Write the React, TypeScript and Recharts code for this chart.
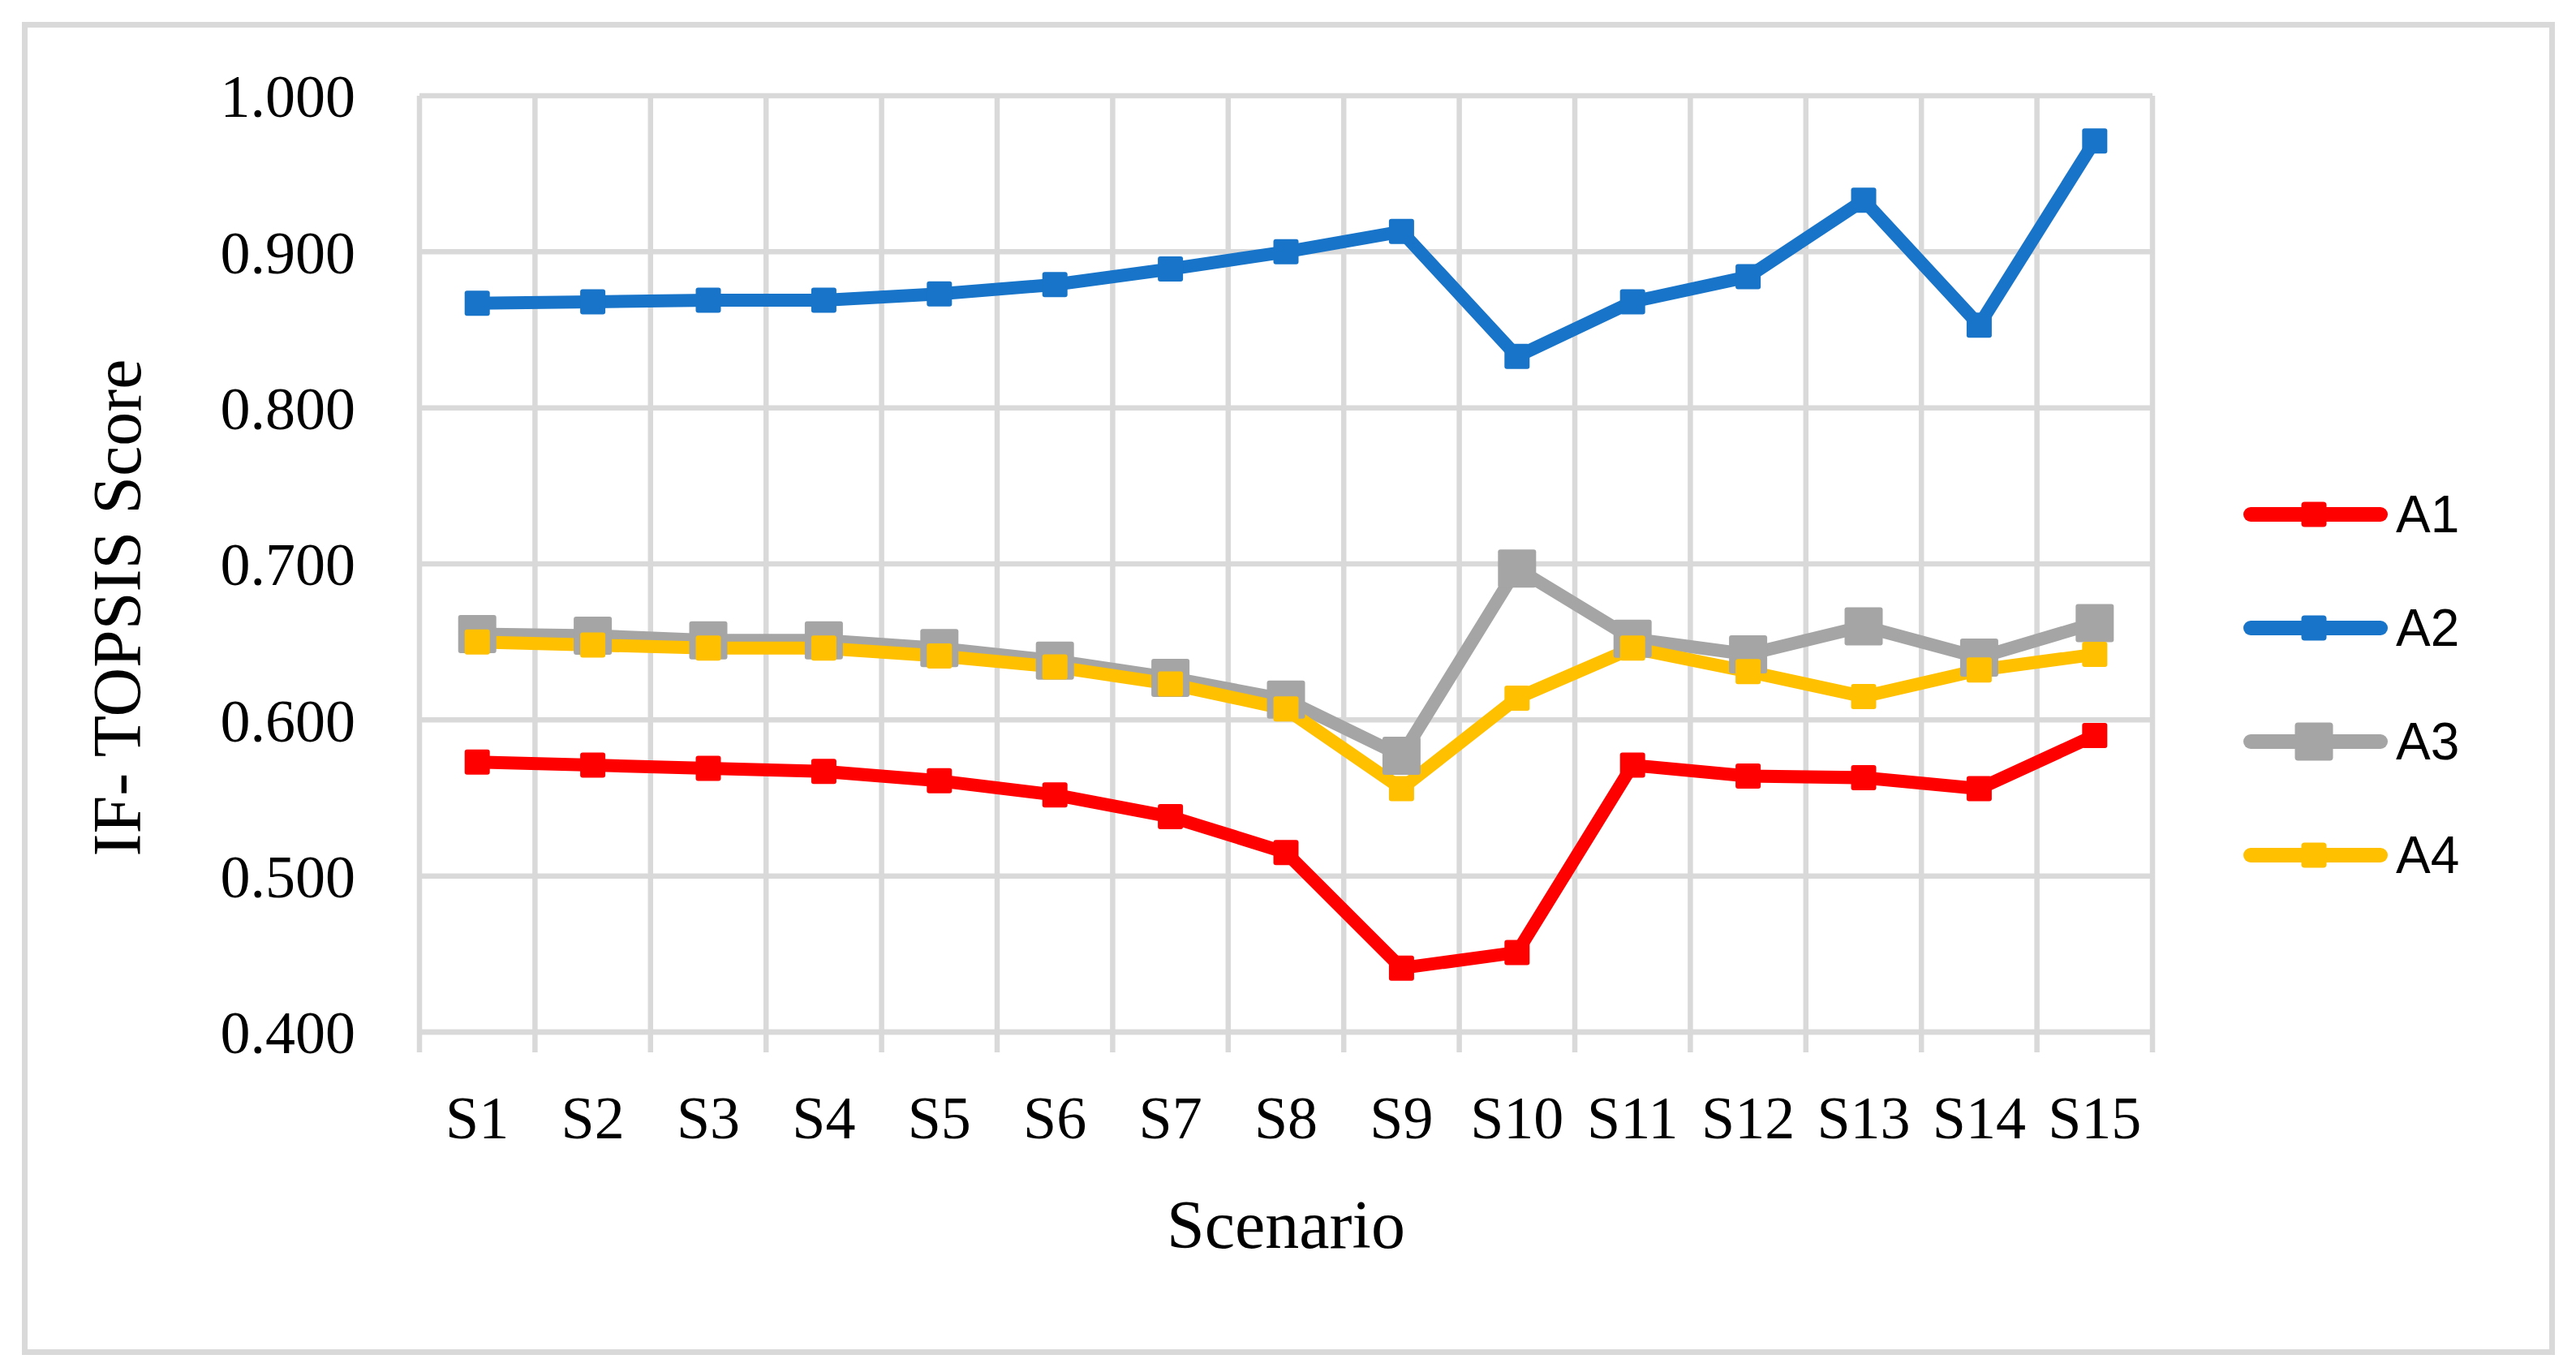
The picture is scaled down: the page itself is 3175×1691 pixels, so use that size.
import {
  CartesianGrid,
  Label,
  Legend,
  Line,
  LineChart,
  XAxis,
  YAxis,
} from "recharts";

const SCENARIOS = [
  "S1", "S2", "S3", "S4", "S5", "S6", "S7", "S8",
  "S9", "S10", "S11", "S12", "S13", "S14", "S15",
];

const A1 = [0.573, 0.571, 0.569, 0.567, 0.561, 0.552, 0.538, 0.515, 0.441, 0.451, 0.571, 0.564, 0.563, 0.556, 0.59];
const A2 = [0.867, 0.868, 0.869, 0.869, 0.873, 0.879, 0.889, 0.9, 0.913, 0.833, 0.868, 0.884, 0.933, 0.853, 0.971];
const A3 = [0.655, 0.654, 0.651, 0.651, 0.646, 0.638, 0.627, 0.613, 0.577, 0.697, 0.652, 0.642, 0.66, 0.64, 0.662];
const A4 = [0.65, 0.648, 0.646, 0.646, 0.641, 0.634, 0.623, 0.607, 0.556, 0.614, 0.646, 0.631, 0.615, 0.632, 0.642];

const Y_TICKS = [0.4, 0.5, 0.6, 0.7, 0.8, 0.9, 1.0];

const SERIES = [
  { key: "A1", values: A1, color: "#ff0000", marker: 31 },
  { key: "A2", values: A2, color: "#1874c8", marker: 31 },
  { key: "A3", values: A3, color: "#a5a5a5", marker: 47 },
  { key: "A4", values: A4, color: "#ffc000", marker: 31 },
];

const GRID = "#d9d9d9";
const SERIF = "'Liberation Serif', 'Times New Roman', serif";
const SANS = "'Liberation Sans', Arial, sans-serif";
const LINE_W = 16;

// numeric x axis: each scenario sits in the middle of its band
const chartData = SCENARIOS.map((name, i) => {
  const row: Record<string, number | string> = { pos: i + 0.5, name };
  SERIES.forEach((s) => {
    row[s.key] = s.values[i];
  });
  return row;
});
const labelTicks = SCENARIOS.map((_, i) => i + 0.5);
const edgeTicks = [...SCENARIOS.map((_, i) => i), SCENARIOS.length];

function squareDot(size: number, color: string) {
  return (props: any) => {
    const { cx, cy, index } = props;
    if (cx == null || cy == null) return <g key={index} />;
    return (
      <rect
        key={index}
        x={cx - size / 2}
        y={cy - size / 2}
        width={size}
        height={size}
        rx={3}
        fill={color}
      />
    );
  };
}

function LegendBox() {
  return (
    <div>
      {SERIES.map((s) => (
        <svg key={s.key} width={300} height={140} style={{ display: "block" }}>
          <line
            x1={10}
            x2={170}
            y1={44}
            y2={44}
            stroke={s.color}
            strokeWidth={18}
            strokeLinecap="round"
          />
          <rect
            x={88 - s.marker / 2}
            y={44 - s.marker / 2}
            width={s.marker}
            height={s.marker}
            rx={4}
            fill={s.color}
          />
          <text
            x={189}
            y={44}
            dy="0.35em"
            fontSize={64}
            fontFamily={SANS}
            fill="#000"
          >
            {s.key}
          </text>
        </svg>
      ))}
    </div>
  );
}

export default function App() {
  return (
    <div
      style={{
        position: "absolute",
        left: 0,
        top: 0,
        width: 3175,
        height: 1691,
        background: "#fff",
      }}
    >
      <div
        style={{
          position: "absolute",
          left: 27,
          top: 27,
          width: 3122,
          height: 1643,
          boxSizing: "border-box",
          border: `7px solid ${GRID}`,
        }}
      />
      <LineChart
        width={3175}
        height={1691}
        data={chartData}
        margin={{ top: 118, right: 522, bottom: 118, left: 0 }}
      >
        <CartesianGrid
          xAxisId="a_edges"
          stroke={GRID}
          strokeWidth={6.5}
          fill="none"
        />
        <XAxis
          xAxisId="a_edges"
          type="number"
          dataKey="pos"
          domain={[0, SCENARIOS.length]}
          ticks={edgeTicks}
          height={1}
          tickSize={25}
          tickLine={{ stroke: GRID, strokeWidth: 6.5 }}
          tickFormatter={() => ""}
          axisLine={{ stroke: GRID, strokeWidth: 6.5 }}
          interval={0}
        />
        <XAxis
          xAxisId="b_labels"
          type="number"
          dataKey="pos"
          domain={[0, SCENARIOS.length]}
          ticks={labelTicks}
          height={300}
          tickLine={false}
          tickSize={0}
          tickMargin={77}
          axisLine={false}
          interval={0}
          tickFormatter={(v: number) => SCENARIOS[Math.floor(v)]}
          tick={{ fontSize: 74, fill: "#000", fontFamily: SERIF }}
        >
          <Label
            content={({ viewBox }: any) => (
              <text
                x={viewBox.x + viewBox.width / 2}
                y={viewBox.y + 265}
                textAnchor="middle"
                fontSize={84}
                fontFamily={SERIF}
                fill="#000"
              >
                Scenario
              </text>
            )}
          />
        </XAxis>
        <YAxis
          type="number"
          domain={[0.4, 1.0]}
          ticks={Y_TICKS}
          width={517}
          tickLine={false}
          tickSize={0}
          tickMargin={79}
          axisLine={false}
          interval={0}
          tickFormatter={(v: number) => v.toFixed(3)}
          tick={{ fontSize: 74, fill: "#000", fontFamily: SERIF }}
        >
          <Label
            content={({ viewBox }: any) => {
              const x = viewBox.x + 173;
              const y = 749;
              return (
                <text
                  x={x}
                  y={y}
                  transform={`rotate(-90, ${x}, ${y})`}
                  textAnchor="middle"
                  fontSize={84}
                  fontFamily={SERIF}
                  fill="#000"
                >
                  IF- TOPSIS Score
                </text>
              );
            }}
          />
        </YAxis>
        {SERIES.map((s) => (
          <Line
            key={s.key}
            xAxisId="b_labels"
            type="linear"
            dataKey={s.key}
            stroke={s.color}
            strokeWidth={LINE_W}
            strokeLinejoin="round"
            strokeLinecap="round"
            dot={squareDot(s.marker, s.color)}
            activeDot={false}
            isAnimationActive={false}
          />
        ))}
        <Legend
          layout="vertical"
          align="center"
          verticalAlign="middle"
          content={() => <LegendBox />}
          wrapperStyle={{ left: 2764, top: 590, width: 320, height: 560 }}
        />
      </LineChart>
    </div>
  );
}
